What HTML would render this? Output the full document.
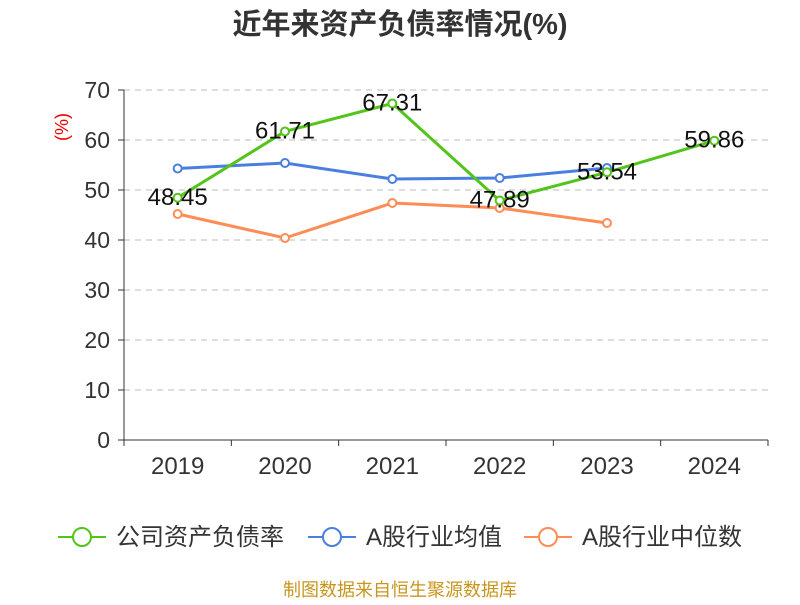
<!DOCTYPE html>
<html><head><meta charset="utf-8"><style>
body{margin:0;background:#fff;}
svg text{font-family:"Liberation Sans","Noto Sans CJK SC",sans-serif;}
</style></head><body>
<svg id="chart" width="800" height="600" xmlns="http://www.w3.org/2000/svg">
<text x="400" y="34" text-anchor="middle" font-size="29" font-weight="bold" fill="#333">近年来资产负债率情况(%)</text>
<text x="68" y="127" font-size="18" fill="#e00" text-anchor="middle" transform="rotate(-90 68 127)">(%)</text>
<g id="grid"></g><g id="axes"></g><g id="series"></g>
<g>
<g><line x1="58" y1="537" x2="106" y2="537" stroke="#52c41a" stroke-width="2"/><circle cx="82" cy="537" r="9" fill="#fff" stroke="#52c41a" stroke-width="2"/><text x="116" y="545" font-size="24" fill="#333">公司资产负债率</text></g>
<g><line x1="308" y1="537" x2="356" y2="537" stroke="#4a7fe0" stroke-width="2"/><circle cx="332" cy="537" r="9" fill="#fff" stroke="#4a7fe0" stroke-width="2"/><text x="366" y="545" font-size="24" fill="#333">A股行业均值</text></g>
<g><line x1="524" y1="537" x2="572" y2="537" stroke="#ff8c55" stroke-width="2"/><circle cx="548" cy="537" r="9" fill="#fff" stroke="#ff8c55" stroke-width="2"/><text x="582" y="545" font-size="24" fill="#333">A股行业中位数</text></g>
</g>
<text x="400" y="596" text-anchor="middle" font-size="18" fill="#c8961e">制图数据来自恒生聚源数据库</text>
</svg>
<script>
const categories=["2019","2020","2021","2022","2023","2024"];
const companyValues=[48.45,61.71,67.31,47.89,53.54,59.86];
const avgValues=[54.3,55.4,52.2,52.4,54.4,null];
const medianValues=[45.2,40.4,47.4,46.4,43.4,null];
const yTicks=[0,10,20,30,40,50,60,70];
const NS="http://www.w3.org/2000/svg";
const x0=124,x1=768,yb=440,yt=90,ymax=70;
const bw=(x1-x0)/categories.length;
const xs=i=>x0+bw*(i+0.5);
const ys=v=>yb-(v/ymax)*(yb-yt);
function mk(tag,attrs,parent){const e=document.createElementNS(NS,tag);for(const k in attrs)e.setAttribute(k,attrs[k]);parent.appendChild(e);return e;}
const grid=document.getElementById('grid'),axes=document.getElementById('axes'),ser=document.getElementById('series');
yTicks.forEach(t=>{
 if(t>0){const l=mk('line',{x1:x0,x2:x1,y1:ys(t),y2:ys(t),stroke:'#bbb','stroke-dasharray':'6,5'},grid);
 }
 const tk=mk('line',{x1:x0-6,x2:x0,y1:ys(t),y2:ys(t),stroke:'#333'},axes);
 
 const tx=mk('text',{x:x0-14,y:ys(t)+8,'text-anchor':'end','font-size':23,fill:'#333'},axes);tx.textContent=t;
 
});
const ya=mk('line',{x1:x0,x2:x0,y1:yt,y2:yb,stroke:'#333'},axes);

const xa=mk('line',{x1:x0,x2:x1,y1:yb,y2:yb,stroke:'#333'},axes);

for(let i=0;i<=categories.length;i++){const t=mk('line',{x1:x0+bw*i,x2:x0+bw*i,y1:yb,y2:yb+6,stroke:'#333'},axes);
 }
categories.forEach((c,i)=>{const t=mk('text',{x:xs(i),y:yb+34,'text-anchor':'middle','font-size':24,fill:'#333'},axes);t.textContent=c;
 });
function series(vals,color,name,labels){
 const pts=vals.map((v,i)=>v==null?null:[xs(i),ys(v)]).filter(p=>p);
 const pl=mk('polyline',{points:pts.map(p=>p.join(',')).join(' '),fill:'none',stroke:color,'stroke-width':3},ser);
 
 vals.forEach((v,i)=>{if(v==null)return;
  const c=mk('circle',{cx:xs(i),cy:ys(v),r:4,fill:'#fff',stroke:color,'stroke-width':2},ser);
  
  if(labels){const t=mk('text',{x:xs(i),y:ys(v)+7,'text-anchor':'middle','font-size':24,fill:'#111'},ser);t.textContent=v.toFixed(2);
   }
 });
}
series(medianValues,'#ff8c55','industry-median',false);
series(avgValues,'#4a7fe0','industry-avg',false);
series(companyValues,'#52c41a','company',true);
</script>
</body></html>
